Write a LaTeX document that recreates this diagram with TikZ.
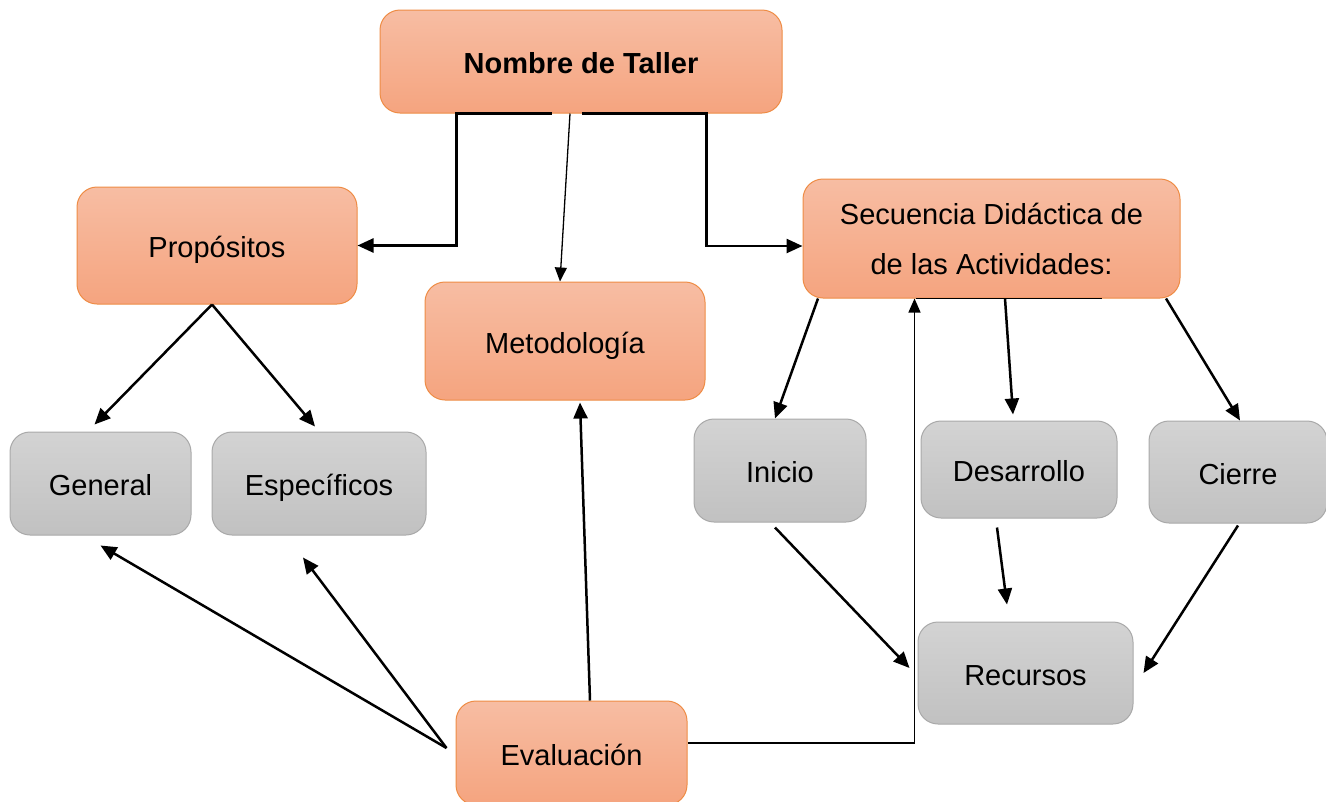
\documentclass[tikz,border=0pt]{standalone}
\usepackage{fontspec}
\setmainfont{Liberation Sans}
\usetikzlibrary{arrows.meta}
\definecolor{otop}{HTML}{F7BDA3}
\definecolor{obot}{HTML}{F5A47F}
\definecolor{oedge}{HTML}{EE8C45}
\definecolor{gtop}{HTML}{D3D3D3}
\definecolor{gbot}{HTML}{C1C1C1}
\definecolor{gedge}{HTML}{A9A9A9}
\tikzset{
  basebox/.style={rounded corners=20pt, inner sep=0pt, align=center,
    font=\fontsize{29}{50}\selectfont, line width=1pt},
  oneline/.style={text height=28pt, text depth=4pt},
  orangebox/.style={basebox, draw=oedge, top color=otop, bottom color=obot},
  graybox/.style={basebox, oneline, draw=gedge, top color=gtop, bottom color=gbot},
  conn/.style={line width=2.5pt, -{Triangle[length=16pt,width=14pt]}},
  thinconn/.style={line width=1.3pt, -{Triangle[length=14pt,width=12pt]}},
  plainline/.style={line width=1.5pt}
}
\begin{document}
\begin{tikzpicture}[x=1pt,y=-1pt]
\useasboundingbox (0,0) rectangle (1326,801);
\node[orangebox, oneline, minimum width=402pt, minimum height=103pt, font=\fontsize{29}{50}\selectfont\bfseries] (nombre) at (581,61.5) {Nombre de Taller};
\node[orangebox, oneline, minimum width=280pt, minimum height=117pt] (prop) at (217,245.5) {Propósitos};
\node[orangebox, oneline, minimum width=280pt, minimum height=118pt] (metod) at (565,341) {Metodología};
\node[orangebox, minimum width=377pt, minimum height=119pt] (secu) at (991.5,238.5) {Secuencia Didáctica de\\de las Actividades:};
\node[graybox, minimum width=181pt, minimum height=103pt] (gen) at (100.5,483.5) {General};
\node[graybox, minimum width=214pt, minimum height=103pt] (esp) at (319,483.5) {Específicos};
\node[graybox, minimum width=172pt, minimum height=103pt] (ini) at (780,470.5) {Inicio};
\node[graybox, minimum width=196pt, minimum height=97pt] (des) at (1019,469.5) {Desarrollo};
\node[graybox, minimum width=178pt, minimum height=102pt] (cie) at (1238,472) {Cierre};
\node[graybox, minimum width=215pt, minimum height=102pt] (rec) at (1025.5,673) {Recursos};
\node[orangebox, oneline, minimum width=231pt, minimum height=104pt] (eva) at (571.5,753) {Evaluación};

% from Nombre de Taller
\draw[conn] ([xshift=-29pt]nombre.south) -| ([xshift=99pt]prop.east) -- (prop.east);
\draw[conn] ([xshift=1pt]nombre.south) -| ([xshift=-96pt,yshift=-7.5pt]secu.west) -- ([yshift=-7.5pt]secu.west);
\draw[thinconn] ([xshift=-11pt]nombre.south) -- ([xshift=-5pt]metod.north);

% from Propositos
\draw[conn] ([xshift=-5pt]prop.south) -- ([xshift=-6pt,yshift=7pt]gen.north);
\draw[conn] ([xshift=-5pt]prop.south) -- ([xshift=-4pt,yshift=5pt]esp.north);

% from Secuencia
\draw[conn] ([xshift=-173.5pt]secu.south) -- ([xshift=-5pt]ini.north);
\draw[conn] ([xshift=13.5pt]secu.south) -- ([xshift=-6pt,yshift=6pt]des.north);
\draw[conn] ([xshift=174.5pt]secu.south) -- ([xshift=2pt]cie.north);
\draw[plainline] ([xshift=-76pt]secu.south) -- ([xshift=110pt]secu.south);

% to Recursos
\draw[conn] ([xshift=-5pt,yshift=-5pt]ini.south) -- ([xshift=-8pt,yshift=5pt]rec.west);
\draw[conn] ([xshift=-22pt,yshift=-9pt]des.south) -- ([xshift=-18.5pt,yshift=17pt]rec.north);
\draw[conn] ([yshift=-2pt]cie.south) -- ([xshift=10pt]rec.east);

% from Evaluacion
\draw[conn] ([xshift=-9pt,yshift=5pt]eva.west) -- ([yshift=-10pt]gen.south);
\draw[conn] ([xshift=-9pt,yshift=5pt]eva.west) -- ([xshift=-16pt,yshift=-22pt]esp.south);
\draw[conn] ([xshift=18.5pt]eva.north) -- ([xshift=15pt,yshift=-2pt]metod.south);
\draw[thinconn] ([yshift=10pt]eva.east) -| ([xshift=-77pt]secu.south);
\end{tikzpicture}
\end{document}
